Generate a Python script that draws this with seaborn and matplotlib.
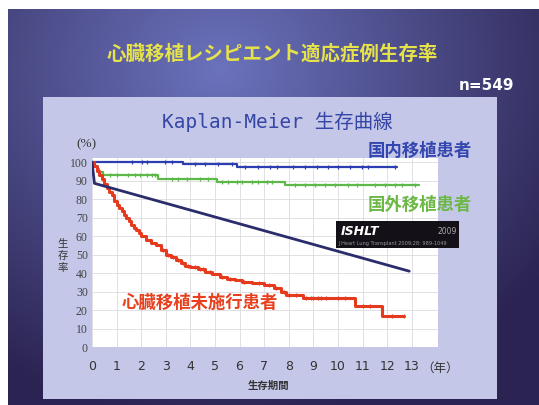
import matplotlib
matplotlib.use("Agg")
import matplotlib.pyplot as plt
import matplotlib.patches as patches
import numpy as np
import pandas as pd
import seaborn as sns

sns.set_style("white")
plt.rcParams["font.family"] = ["DejaVu Sans", "Noto Sans CJK JP"]

# Kaplan-Meier survival (years, %)
domestic_t = [0, 3.7, 5.9, 12.4]
domestic_s = [100, 99.2, 97.5, 97.5]
domestic_censor = [1.61, 2.02, 2.22, 2.97, 3.24, 4.19, 4.59, 5.13, 5.68, 6.22,
                   6.76, 7.24, 7.51, 8.18, 8.66, 9.13, 9.61, 10.01, 10.49,
                   10.96, 11.23, 12.32]

overseas_t = [0, 0.1, 0.2, 0.3, 0.45, 2.7, 5.07, 7.85, 13.3]
overseas_s = [100, 98, 96, 94.5, 93, 91, 89.4, 87.6, 87.6]
overseas_censor = [0.73, 1.0, 1.48, 1.75, 1.95, 2.22, 2.43, 2.56, 3.24, 3.51,
                   3.85, 4.39, 4.73, 5.27, 5.54, 5.88, 6.08, 6.49, 6.76, 7.1,
                   7.3, 8.25, 8.66, 9.07, 9.47, 9.88, 10.42, 10.76, 11.5,
                   11.91, 12.32, 12.59, 13.13]

no_tx_t = [0, 0.1, 0.2, 0.3, 0.4, 0.5, 0.6, 0.7, 0.8, 0.9, 1.0, 1.1, 1.2, 1.3,
           1.4, 1.5, 1.6, 1.7, 1.8, 1.9, 2.0, 2.2, 2.4, 2.6, 2.8, 3.0, 3.2,
           3.4, 3.6, 3.8, 4.0, 4.3, 4.6, 4.9, 5.2, 5.5, 5.8, 6.1, 6.5, 7.0,
           7.4, 7.7, 7.9, 8.6, 10.7, 11.8, 12.7]
no_tx_s = [100, 98, 95, 93, 91, 88, 86, 84, 82, 79, 77, 75, 73.5, 71.5, 69.5,
           68, 66, 64.5, 63, 61.5, 60, 58, 56.5, 55, 52.5, 50, 48.5, 47, 45.5,
           44, 43, 42, 40.5, 39.5, 38, 37, 36, 35, 34.5, 33.5, 32, 30, 28,
           26.5, 22, 16.5, 16.5]
no_tx_censor = [2.9, 3.1, 3.3, 3.5, 3.7, 3.9, 4.2, 4.4, 4.5, 4.8, 5.3, 5.6,
                6.2, 6.8, 7.2, 7.5, 7.8, 8.0, 8.3, 8.7, 8.9, 9.0, 9.2, 9.3,
                9.5, 10.0, 10.3, 11.0, 11.3, 12.2, 12.7]

ishlt_t = [0, 0.1, 12.9]
ishlt_s = [100, 88.5, 41]

years = list(range(0, 14))
pct_ticks = list(range(0, 101, 10))

W, H = 539, 405
fig = plt.figure(figsize=(W / 100, H / 100), dpi=100)
fig.patch.set_facecolor("white")


def fx(x):
    return x / W


def fy(y):
    return 1 - y / H


# slide background gradient
bg = fig.add_axes([fx(8), 0, 1 - fx(8), fy(9)])
gx, gy = np.meshgrid(np.linspace(0, 1, 200), np.linspace(0, 1, 150))
d = np.clip(np.sqrt(((gx - 0.40) / 0.75) ** 2 + ((gy - 0.15) / 0.9) ** 2), 0, 1)
light = np.array([0.42, 0.45, 0.74])
dark = np.array([0.17, 0.14, 0.32])
img = light * (1 - d[..., None]) + dark * d[..., None]
bg.imshow(img, aspect="auto", extent=[0, 1, 0, 1], origin="upper")
bg.set_axis_off()

# lavender panel
fig.patches.append(patches.Rectangle((fx(43), fy(399)), fx(497 - 43), (399 - 97) / H,
                                     transform=fig.transFigure, facecolor="#c4c7e8",
                                     edgecolor="none", zorder=1))

ax = fig.add_axes([fx(92), fy(347), fx(438 - 92), (347 - 158) / H])
ax.set_zorder(2)
ax.set_facecolor("white")


def censor_y(t, s, pts):
    idx = np.searchsorted(t, pts, side="right") - 1
    return np.array(s)[idx]


curves = [
    (domestic_t, domestic_s, domestic_censor, "#2c3db0", 1.6),
    (overseas_t, overseas_s, overseas_censor, "#5cb848", 1.6),
    (no_tx_t, no_tx_s, no_tx_censor, "#e63a1e", 2.2),
]
for t, s, cens, col, lw in curves:
    df = pd.DataFrame({"t": t, "s": s})
    sns.lineplot(data=df, x="t", y="s", drawstyle="steps-post", color=col,
                 lw=lw, ax=ax, zorder=3)
    ax.plot(cens, censor_y(t, s, cens), "|", color=col, ms=3, mew=0.9, zorder=3)

sns.lineplot(x=ishlt_t, y=ishlt_s, color="#2b2c6c", lw=2, ax=ax, zorder=3)

ax.set_xlim(0, 14.07)
ax.set_ylim(0, 102.2)
ax.set_xticks(years)
ax.set_yticks(pct_ticks)
ax.set_xticklabels([str(v) for v in years], fontsize=9, color="#333333")
ax.set_yticklabels([str(v) for v in pct_ticks], fontsize=8.5, color="#444444",
                   family="Liberation Serif")
ax.tick_params(axis="x", length=0, pad=9)
ax.tick_params(axis="y", length=0, pad=3)
ax.grid(True, color="#dcdce0", lw=0.6)
for sp in ax.spines.values():
    sp.set_visible(False)
ax.set_xlabel("")
ax.set_ylabel("")

# texts
fig.text(fx(272), fy(54), "心臓移植レシピエント適応症例生存率", fontsize=14,
         fontweight="bold", color="#e6e24a", ha="center", va="center",
         family=["Noto Sans CJK JP"])
fig.text(fx(487), fy(85), "n=549", fontsize=11, fontweight="bold",
         color="white", ha="center", va="center")
fig.text(fx(277), fy(122), "Kaplan-Meier 生存曲線", fontsize=14, color="#3646a6",
         ha="center", va="center", family=["DejaVu Sans Mono", "Noto Sans CJK JP"],
         zorder=5)
fig.text(fx(86), fy(144), "(%)", fontsize=9.5, color="#333333", ha="center",
         va="center", family="Liberation Serif")
fig.text(fx(420), fy(151), "国内移植患者", fontsize=12.5, fontweight="bold",
         color="#3446b0", ha="center", va="center", family=["Noto Sans CJK JP"],
         zorder=5)
fig.text(fx(420), fy(205), "国外移植患者", fontsize=12.5, fontweight="bold",
         color="#6cb845", ha="center", va="center", family=["Noto Sans CJK JP"],
         zorder=5)
fig.text(fx(200), fy(303), "心臓移植未施行患者", fontsize=12.5, fontweight="bold",
         color="#e8401e", ha="center", va="center", family=["Noto Sans CJK JP"],
         zorder=5)
fig.text(fx(63), fy(256), "生\n存\n率", fontsize=7.5, color="#333333",
         ha="center", va="center", linespacing=1.25, family=["Noto Sans CJK JP"])
fig.text(fx(268), fy(386), "生存期間", fontsize=7.5, fontweight="bold",
         color="#333333", ha="center", va="center", family=["Noto Sans CJK JP"])
fig.text(fx(440), fy(368), "（年）", fontsize=9, color="#333333",
         ha="center", va="center", family=["Noto Sans CJK JP"])

# ISHLT reference box
fig.patches.append(patches.Rectangle((fx(336), fy(248)), fx(459 - 336), 27 / H,
                                     transform=fig.transFigure, facecolor="#141018",
                                     edgecolor="none", zorder=4))
fig.text(fx(341), fy(231), "ISHLT", fontsize=9, fontweight="bold", style="italic",
         color="white", ha="left", va="center", zorder=5)
fig.text(fx(457), fy(231), "2009", fontsize=5.5, color="#aaaaaa", ha="right",
         va="center", zorder=5)
fig.text(fx(338), fy(243), "J Heart Lung Transplant 2009;28: 989-1049",
         fontsize=3.6, color="#999999", ha="left", va="center", zorder=5)

fig.savefig("out.png", dpi=100, facecolor=fig.get_facecolor())
